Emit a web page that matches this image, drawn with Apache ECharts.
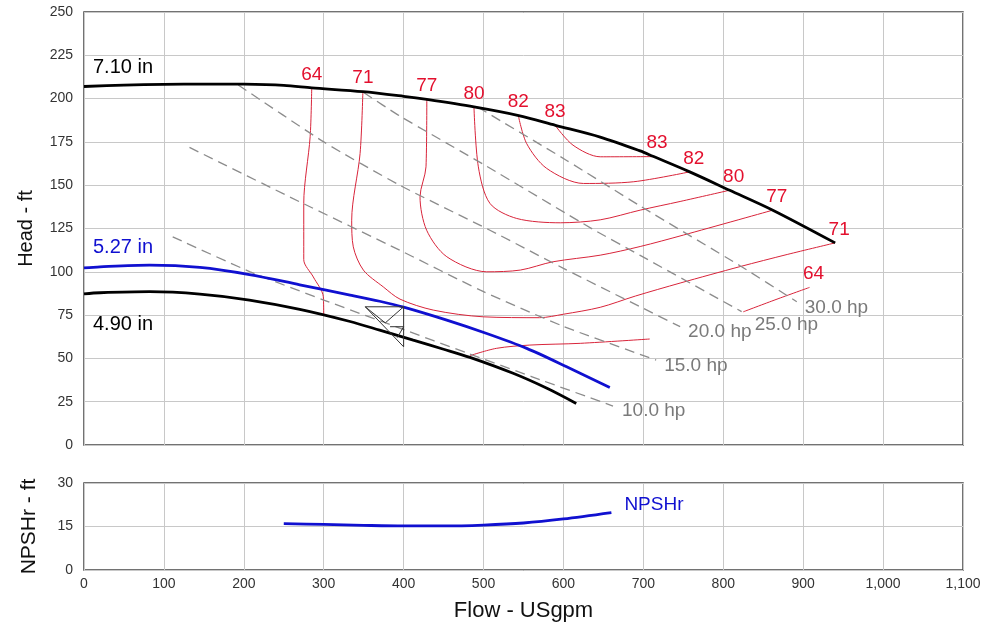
<!DOCTYPE html>
<html><head><meta charset="utf-8">
<script src="https://cdn.jsdelivr.net/npm/echarts@6/dist/echarts.min.js"></script>
<style>html,body{margin:0;padding:0;background:#fff}#c{width:989px;height:627px}</style>
</head><body><div id="c"></div>
<script>
// ---- data (flow USgpm, head ft) ----
const xTicks = [0,100,200,300,400,500,600,700,800,900,1000,1100];
const head710 = [[0,207],[50,207.8],[100,208.2],[150,208.4],[200,208.3],[250,207.6],[285,206.2],[349,204],[400,201.3],[429,199.5],[488,195.2],[544,190.2],[590,184.6],[646,177.8],[696,169.8],[712,166.7],[758,157.7],[808,147.1],[862,135.6],[940,116.7]];
const head527 = [[0,102.3],[20,102.9],[82,103.8],[145,102.5],[207,98.4],[270,92.5],[333,86.6],[370,83],[400,79.6],[454,72.1],[504,64.4],[554,55.8],[604,45.2],[658,33.2]];
const head490 = [[0,87.3],[20,87.9],[82,88.5],[145,87.1],[207,83.7],[270,78.3],[333,71.3],[370,66.3],[412,60.5],[450,55.3],[483,50.6],[537,41.4],[580,32.6],[616,24]];
const npshr = [[250,16],[300,15.7],[350,15.4],[400,15.2],[450,15.2],[500,15.5],[550,16.2],[600,17.6],[660,19.8]];

const hp10 = [[111,120.2],[208,100],[300,83.7],[395,67.5],[480,53],[560,39.5],[662,22.5]];
const hp15 = [[132,171.8],[270,140.4],[395,112.5],[496,89.4],[600,68.5],[716,49]];
const hp20 = [[193,207.9],[300,175],[395,150],[508,124],[600,102],[696,79.8],[746,68.3]];
const hp25 = [[350,203.5],[395,190],[500,162],[637,124.5],[696,109.5],[823,77]];
const hp30 = [[493,195],[604,164.3],[696,138],[821,103.5],[892,82.7]];
const hpNames = ['10.0 hp','15.0 hp','20.0 hp','25.0 hp','30.0 hp'];

const eff64a = [[285,206.2],[283,178],[275,139.5],[275,107],[287,97],[299.5,85.6],[300,75]];
const eff64b = [[483,51.6],[516,55.8],[558,57.7],[621,58.7],[708,61.2]];
const eff64c = [[825,76.9],[866,84],[908,91]];
const eff71 = [[349,204],[345.5,168.3],[335,129.8],[337,114.4],[349.6,101],[374.5,91.3],[395.5,84.2],[437,77.9],[500,74],[570,73.5],[600,75.5],[646,79.5],[690,86],[746,93.5],[821,103],[880,110],[940,116.7]];
const eff77 = [[429,199.5],[428,160.6],[420.5,143.3],[428.8,124],[454,108.7],[504,100],[546,101],[587,105.8],[646,109.6],[696,114.6],[750,121.2],[862,135.6]];
const eff80 = [[488,195.2],[493.5,160.6],[508,139.5],[541.5,130.8],[596,128.3],[646,130],[696,135.6],[746,140.6],[808,147.1]];
const eff82 = [[543.5,190.2],[554,174],[579,159.7],[625,151],[688,152],[758,157.7]];
const eff83 = [[589.5,184.6],[612,173.1],[646,166.4],[712,166.5]];
const effNames = ['64','71','77','80','82','83'];

const dutyBar = [[400,79.8],[400,56.7]];
const dutyTri1 = [[352,79.8],[400,79.8],[377,70.5],[352,79.8]];
const dutyTri2 = [[352,79.8],[400,56.7]];
const dutyTri3 = [[383,68.3],[400,68.3],[392,62]];

// ---- styling / build ----
const FONT = '"Liberation Sans", Arial, sans-serif';
const RED = '#e3102e', RED_LINE = '#d8243a', GRAY_DASH = '#8c8c8c', BLUE = '#1010d0';

function line(data, color, width, extra) {
  return Object.assign({type:'line', data, xAxisIndex:0, yAxisIndex:0, showSymbol:false, symbol:'none',
    smooth:0.3, lineStyle:{color, width}, silent:true, z:3}, extra||{});
}
const series = [];
[eff64a,eff64b,eff64c,eff71,eff77,eff80,eff82,eff83].forEach(d => series.push(line(d, RED_LINE, 1, {z:2})));
[hp10,hp15,hp20,hp25,hp30].forEach(d => series.push(line(d, GRAY_DASH, 1.3, {z:2, smooth:0.2, lineStyle:{color:GRAY_DASH,width:1.3,type:[10,6]}})));
series.push(line(head710, '#000', 2.8, {z:4}));
series.push(line(head527, BLUE, 2.8, {z:4}));
series.push(line(head490, '#000', 2.8, {z:4}));
[dutyBar,dutyTri1,dutyTri2,dutyTri3].forEach(d => series.push(line(d, '#333', 1, {smooth:false, z:5})));
series.push({type:'line', xAxisIndex:1, yAxisIndex:1, data:npshr, showSymbol:false, symbol:'none', smooth:0.3,
  lineStyle:{color:BLUE, width:2.8}, silent:true});

// labels
const effTops = [eff64a,eff71,eff77,eff80,eff82,eff83];
const effEnds = [eff64c,eff71,eff77,eff80,eff82,eff83];
const lblData = [];
effTops.forEach((d,i)=> lblData.push({value:d[0], label:{formatter:effNames[i], position:'top', distance:4, color:RED, fontSize:19}}));
effEnds.forEach((d,i)=> lblData.push({value:d[d.length-1], label:{formatter:effNames[i], position:'top', distance:4, offset:[4,0], color:RED, fontSize:19}}));
const hpOff = [[1,5],[0,6],[0,5],[5,13],[0,6]];
[hp10,hp15,hp20,hp25,hp30].forEach((d,i)=> lblData.push({value:d[d.length-1], label:{formatter:hpNames[i], position:'right', distance:8, offset:hpOff[i], color:'#7a7a7a', fontSize:19}}));
lblData.push({value:head710[0], label:{formatter:'7.10 in', position:[9,-29], color:'#000', fontSize:20}});
lblData.push({value:head527[0], label:{formatter:'5.27 in', position:[9,-30], color:BLUE, fontSize:20}});
lblData.push({value:head490[0], label:{formatter:'4.90 in', position:[9,21], color:'#000', fontSize:20}});
series.push({type:'scatter', xAxisIndex:0, yAxisIndex:0, symbolSize:0, data:lblData, silent:true, z:10,
  itemStyle:{opacity:1}, label:{show:true, fontFamily:FONT, opacity:1}});
series.push({type:'scatter', xAxisIndex:1, yAxisIndex:1, symbolSize:0, silent:true, z:10, itemStyle:{opacity:1},
  data:[{value:npshr[npshr.length-1], label:{formatter:'NPSHr', position:'right', distance:13, offset:[0,-8], color:BLUE, fontSize:19}}],
  label:{show:true, fontFamily:FONT, opacity:1}});

const commonX = {type:'value', min:0, max:1100, interval:100,
  axisLine:{show:false}, axisTick:{show:false},
  splitLine:{show:true, lineStyle:{color:'#c8c8c8', width:1}}};
const fmt = v => v >= 1000 ? String(v).replace(/(\d)(?=(\d{3})+$)/g,'$1,') : String(v);

const option = {
  animation:false,
  textStyle:{fontFamily:FONT},
  grid:[
    {left:84, top:12, width:879, height:433, show:true, borderColor:'#444', borderWidth:1.5, backgroundColor:'transparent'},
    {left:84, top:483, width:879, height:87, show:true, borderColor:'#444', borderWidth:1.5, backgroundColor:'transparent'}
  ],
  xAxis:[
    Object.assign({gridIndex:0, axisLabel:{show:false}}, commonX),
    Object.assign({gridIndex:1, axisLabel:{show:true, color:'#333', fontSize:14, margin:7, formatter:fmt, fontFamily:FONT},
      name:'Flow - USgpm', nameLocation:'middle', nameGap:30, nameTextStyle:{color:'#111', fontSize:22, fontFamily:FONT}}, commonX)
  ],
  yAxis:[
    {gridIndex:0, type:'value', min:0, max:250, interval:25, axisLine:{show:false}, axisTick:{show:false},
     axisLabel:{color:'#333', fontSize:14, margin:11, fontFamily:FONT},
     splitLine:{show:true, lineStyle:{color:'#c8c8c8', width:1}},
     name:'Head - ft', nameLocation:'middle', nameGap:48, nameTextStyle:{color:'#111', fontSize:20, fontFamily:FONT}},
    {gridIndex:1, type:'value', min:0, max:30, interval:15, axisLine:{show:false}, axisTick:{show:false},
     axisLabel:{color:'#333', fontSize:14, margin:11, fontFamily:FONT},
     splitLine:{show:true, lineStyle:{color:'#c8c8c8', width:1}},
     name:'NPSHr - ft', nameLocation:'middle', nameGap:44, nameTextStyle:{color:'#111', fontSize:21, fontFamily:FONT}}
  ],
  series
};
const chart = echarts.init(document.getElementById('c'), null, {renderer:'canvas'});
chart.setOption(option);
</script></body></html>
